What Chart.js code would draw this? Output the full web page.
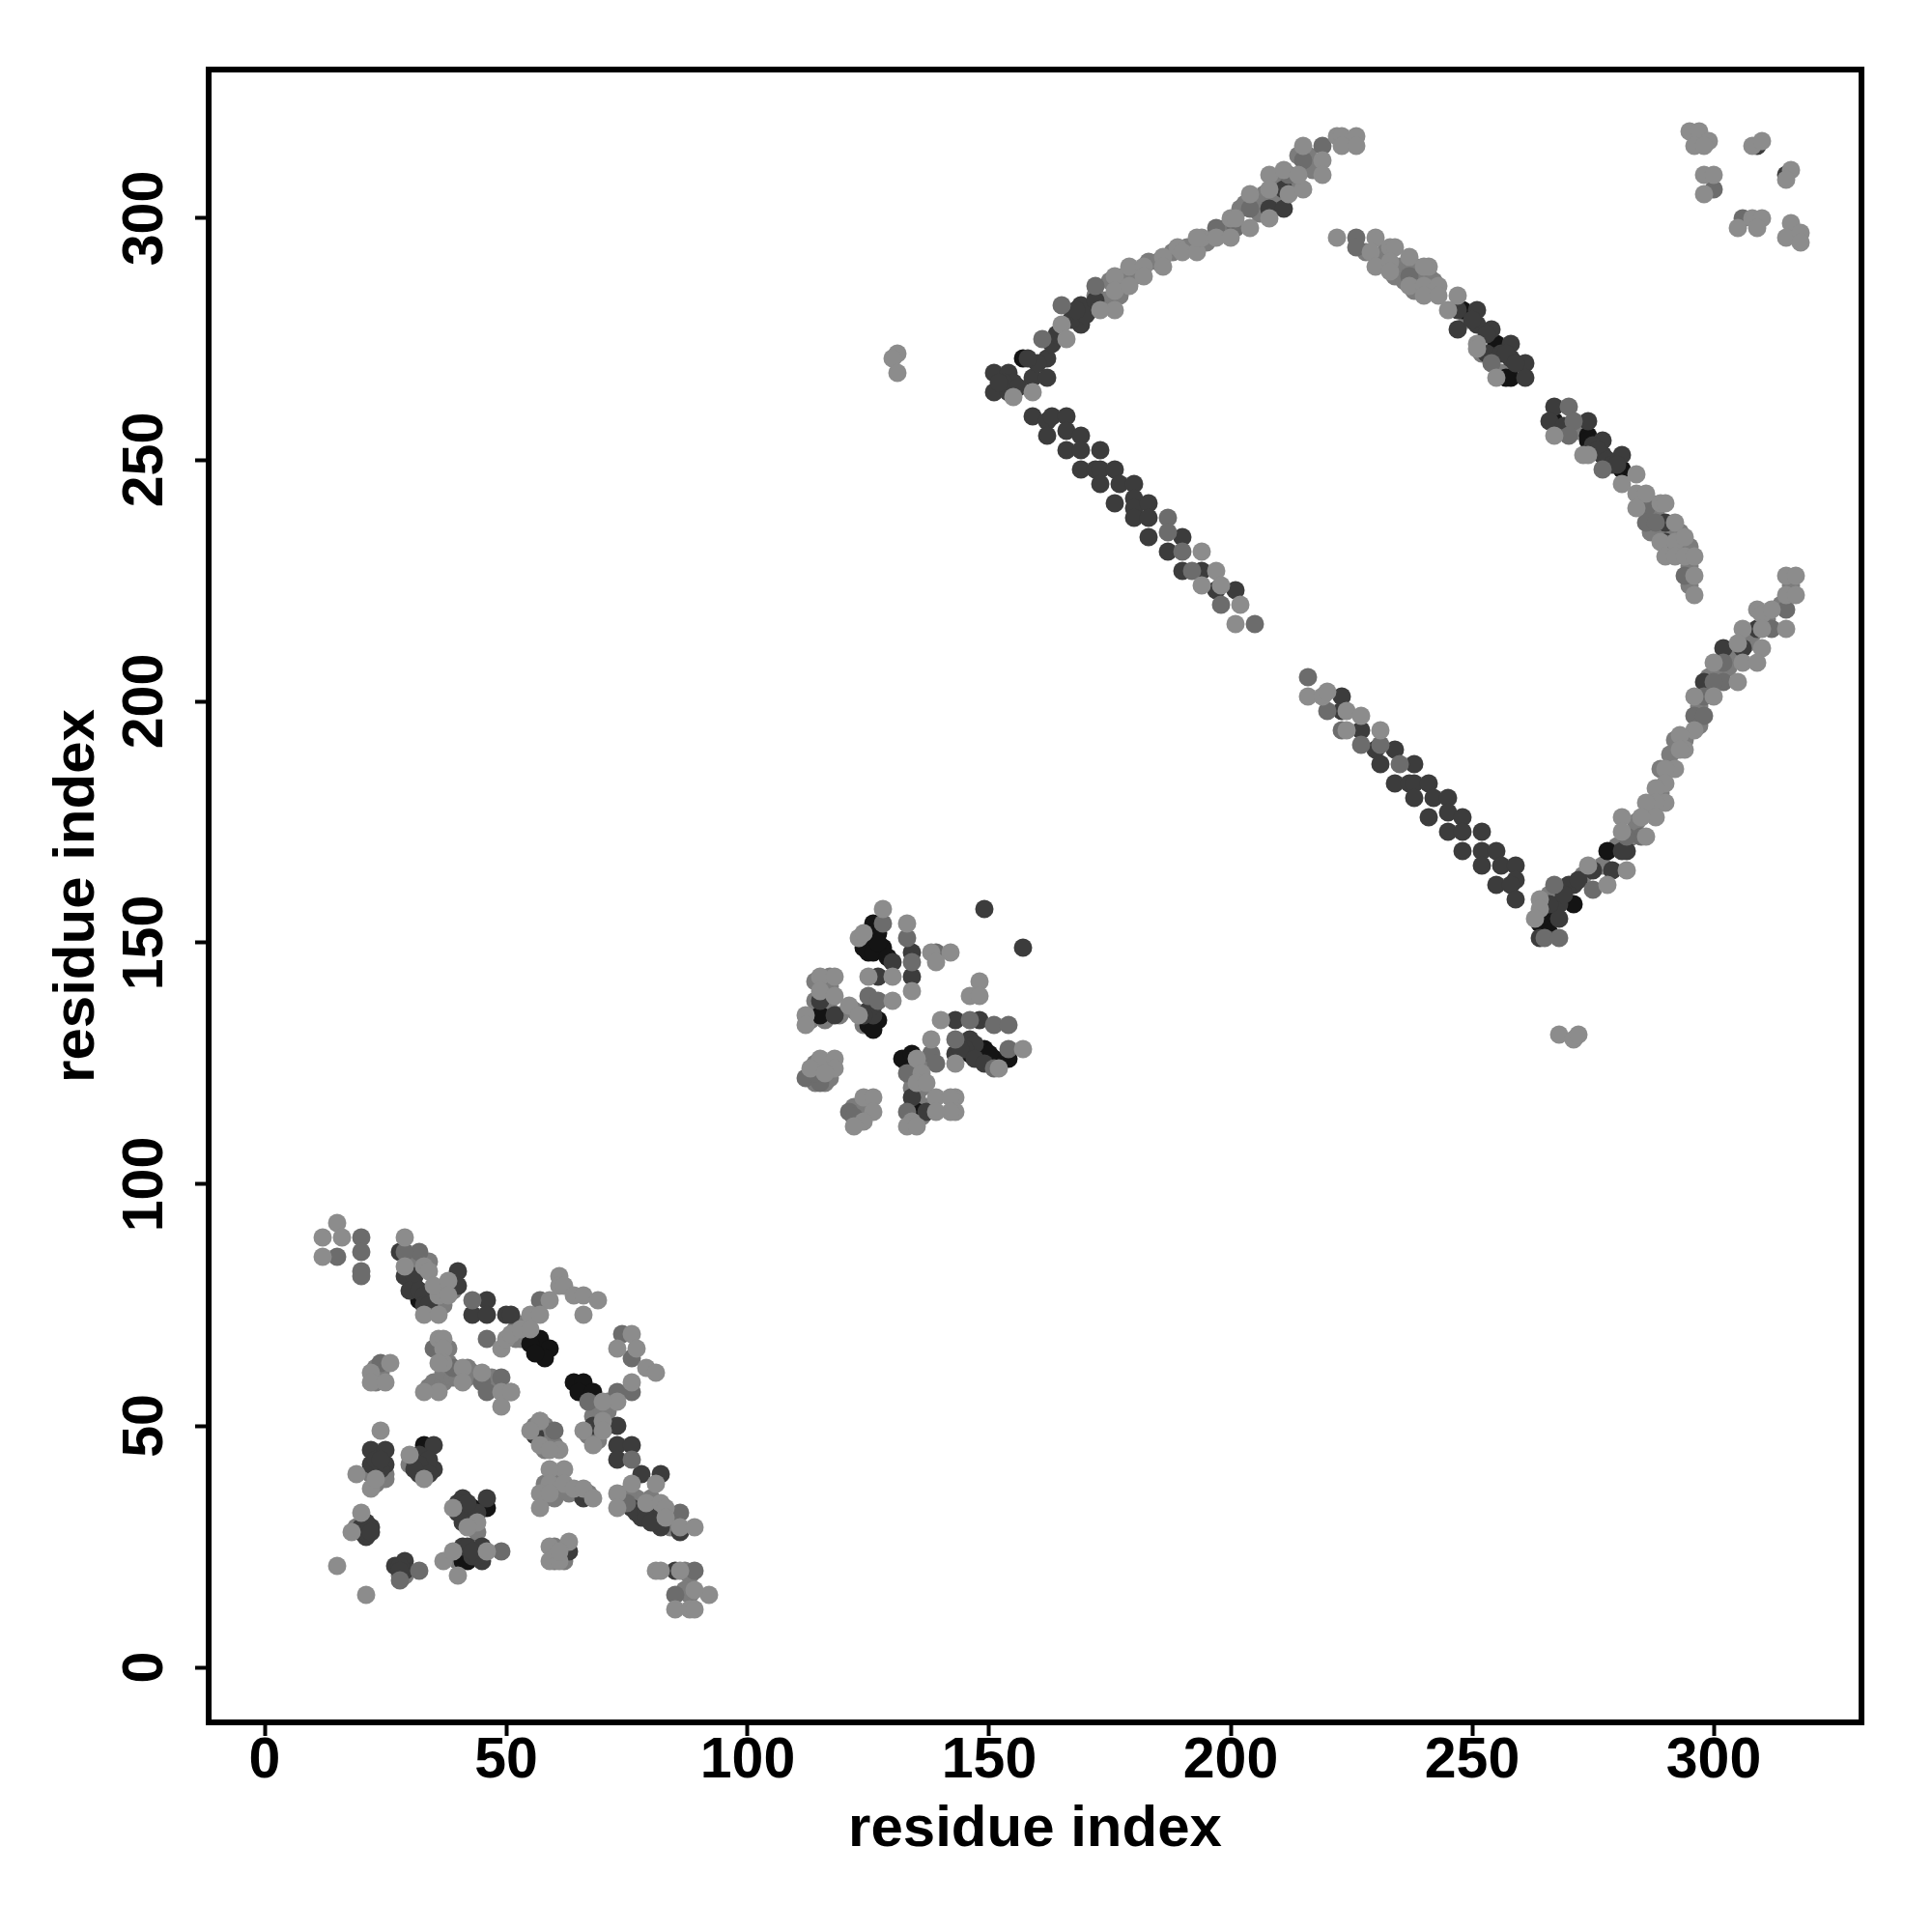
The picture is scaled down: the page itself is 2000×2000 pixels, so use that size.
<!DOCTYPE html>
<html>
<head>
<meta charset="utf-8">
<title>residue contact map</title>
<script src="https://cdn.jsdelivr.net/npm/chart.js@4"></script>
<style>
  html, body { margin: 0; background: #fff; }
  canvas { display: block; }
</style>
</head>
<body>
<canvas id="contactMap" width="2000" height="2000"></canvas>
<script>
const tickValues = [0, 50, 100, 150, 200, 250, 300];
const axisTitle = 'residue index';

// contacts [residue, residue], split by how dark the dot is
const lightContacts = [
  [15,92],[12,89],[12,85],[16,89],[29,89],[29,83],[33,83],[34,82],[36,77],[33,73],[36,73],[35,79],[38,80],[38,77],
  [49,66],[50,68],[51,69],[36,68],[37,68],[37,66],[37,63],[36,63],[41,62],[41,59],[36,57],[33,57],[45,61],[49,57],[51,57],[49,54],
  [22,61],[22,59],[26,63],[25,59],[15,21],[21,15],
  [61,81],[61,79],[62,79],[64,77],[66,77],[66,73],[69,76],[59,76],[55,73],[57,73],[53,70],[55,70],
  [76,69],[73,66],[77,66],[79,62],[81,61],[76,59],[73,55],[70,55],[51,57],[57,51],
  [24,49],[19,40],[22,37],[23,39],[30,44],[33,39],[18,28],[20,32],[39,33],[44,30],[42,29],[37,22],[39,24],[46,24],[40,19],
  [57,51],[55,49],[57,46],[61,45],[59,45],[66,49],[68,46],[70,51],[70,49],[62,41],[59,41],[59,38],[62,38],[57,36],[57,33],
  [59,36],[64,37],[66,37],[68,35],[73,36],[73,33],[76,38],[81,38],[79,34],[82,34],[83,33],[83,31],[86,29],[89,29],
  [59,25],[59,22],[63,26],[61,22],[61,24],[81,20],[82,20],[86,20],[85,12],[88,12],[89,12],[92,15],[89,16],
  [128,157],[133,154],[138,148],[142,148],[139,146],[134,140],[125,143],[130,143],[123,151],[124,152],
  [115,143],[118,143],[115,140],[118,139],[112,135],[112,133],[121,137],[123,135],[130,138],[148,142],[146,139],[148,139],[140,134],
  [138,130],[143,125],[157,128],[152,124],[135,126],[136,123],[135,121],[137,121],[139,118],[143,118],[142,118],[143,115],[142,115],[139,115],
  [134,113],[133,112],[135,112],[115,126],[118,126],[118,124],[113,124],[116,123],[124,118],[126,118],[126,115],[124,113],[122,112],
  [155,263],[159,264],[165,278],[166,275],[176,281],[173,281],[176,288],[176,285],[179,290],[179,286],[182,290],[182,288],[186,292],[186,290],
  [189,294],[190,293],[193,293],[194,296],[193,296],[197,296],[200,300],[201,300],[200,296],[204,305],[204,298],
  [208,309],[208,306],[208,300],[211,310],[212,305],[215,315],[215,306],[214,309],[219,312],[219,309],[222,317],[223,317],[223,315],[226,317],[226,315],
  [222,296],[230,296],[229,293],[230,290],[233,294],[234,294],[233,291],[233,289],[237,292],[237,286],[241,290],[240,290],[240,286],[240,284],[243,286],[243,284],[247,284],[245,281],
  [251,274],[251,273],[255,267],[267,255],[274,251],[273,251],[281,245],[284,247],
  [284,243],[286,243],[284,240],[289,241],[290,241],[292,237],[289,233],[292,233],[294,234],[290,230],[292,230],[294,230],[296,230],[296,226],[296,222],
  [194,231],[197,227],[194,224],[198,224],[202,220],[201,216],
  [131,272],[130,271],[131,268],[268,131],[271,130],[272,131],
  [295,318],[297,318],[299,316],[296,315],[298,315],[298,309],[300,309],[298,305],[308,315],[310,316],[316,310],[315,308],
  [305,298],[308,300],[310,300],[309,298],[316,299],[315,296],[318,297],[318,295],
  [315,226],[317,226],[315,222],[317,222],[309,219],[310,218],[312,219],[315,215],[310,215],[306,215],[310,211],[305,212],[306,208],[309,208],[300,208],[305,204],
  [300,201],[296,201],[296,194],[293,193],[294,190],[293,190],[292,186],[290,186],[290,183],[288,182],[290,179],[288,179],[286,179],[288,176],[285,176],[281,176],[281,173],
  [286,172],[282,165],[274,166],[278,162],[264,159],[264,157],[263,155],
  [216,201],[219,201],[220,202],[224,198],[227,197],[224,194],[231,194]
];
const midContacts = [
  [15,85],[20,89],[20,86],[20,82],[20,81],[32,86],[29,86],[43,76],[46,68],[24,63],[49,60],[35,66],[39,62],[45,59],[46,57],
  [57,76],[76,64],[74,69],[76,57],[73,57],[67,55],[32,20],[28,18],[49,24],[60,49],[76,43],[86,32],[89,20],[85,15],
  [75,34],[128,154],[133,151],[134,146],[139,148],[125,139],[127,138],[146,134],[151,133],[154,133],[143,130],[138,127],[139,125],[154,128],[151,124],[133,123],
  [133,115],[112,122],[115,121],[114,123],[121,115],[122,114],[161,275],[165,282],[172,286],[197,298],[201,298],[204,302],[212,309],[215,312],[219,315],[226,296],[226,294],[237,288],
  [187,238],[187,235],[190,231],[198,220],[205,216],[192,227],[254,270],[270,261],[271,258],[270,255],[277,248],[286,240],[286,237],[288,237],[294,226],
  [315,219],[312,215],[302,208],[302,204],[300,204],[298,201],[296,197],[298,197],[300,306],[306,300],[285,172],[282,172],[275,161],[267,162],[265,151],[268,151],
  [216,205],[220,198],[223,194],[227,191],[231,191],[235,187]
];
const darkContacts = [
  [28,86],[31,79],[40,82],[40,79],[43,73],[46,76],[46,73],[50,73],[51,73],[22,45],[25,45],[25,42],[22,42],[24,41],[35,46],[31,43],[32,40],[35,41],
  [20,29],[22,29],[21,27],[27,21],[29,22],[29,20],[41,35],[46,35],[40,32],[41,25],[42,25],[45,25],[45,22],[56,48],[68,50],[73,50],[73,46],[76,46],[73,43],[66,35],
  [76,33],[78,40],[82,40],[78,31],[81,31],[82,29],[86,28],[63,24],[85,20],[134,148],[134,143],[127,143],[130,146],[115,138],[118,135],[143,134],[148,134],[146,130],[143,127],[149,157],[157,149],[134,118],[137,115],
  [151,268],[151,264],[154,268],[154,264],[159,267],[162,271],[162,267],[169,282],[169,278],[172,283],
  [159,259],[162,258],[163,259],[166,259],[162,255],[166,256],[169,255],[166,252],[169,252],[173,252],[169,248],[172,248],[173,248],[176,248],[173,245],[177,245],[180,245],
  [176,241],[180,242],[180,240],[183,241],[180,238],[183,238],[183,234],[190,234],[187,231],[190,227],[194,227],[197,223],[201,223],
  [208,302],[211,302],[211,306],[247,281],[251,281],[247,277],[251,278],[254,277],[258,274],[258,271],[261,270],[261,267],[267,261],[266,258],[274,258],[277,254],[277,251],[281,251],
  [290,237],[290,233],[309,215],[306,211],[302,211],[298,204],[282,169],[281,169],[279,165],[275,165],[271,162],[270,162],[268,158],[268,155],[264,151],[266,158],
  [309,315],[315,309],[223,201],[223,198],[227,194],[230,190],[234,190],[231,187],[238,187],[234,183],[237,183],[238,183],[241,183],[238,180],[242,180],[245,180],
  [241,176],[245,177],[248,176],[245,173],[248,173],[252,173],[248,169],[252,169],[255,169],[252,166],[256,166],[259,166],[255,162],[259,163],[258,162],[259,159],
  [29,81],[31,81],[30,78],[32,78],[33,77],[33,75],[34,75],[23,43],[24,43],[32,44],[34,43],[32,42],[34,40],[31,41],
  [41,33],[40,34],[42,31],[44,32],[42,34],[41,30],[43,23],[44,23],[43,24],[21,30],[20,28],[21,28],[22,28],[28,21],[28,20],
  [77,32],[79,32],[79,31],[80,30],[125,136],[126,135],[126,137],[124,135],[147,129],[145,128],[144,128],[147,126],[149,125],
  [160,270],[158,271],[155,266],[153,266],[156,265],[152,266],[163,274],[164,276],[167,279],[170,280],[168,281],
  [250,279],[253,276],[253,272],[256,272],[257,272],[259,270],[269,257],[275,253],[276,252],[278,250],[279,249],[280,249],[272,163],[269,160]
];
const blackContacts = [
  [32,76],[33,46],[33,43],[43,33],[46,33],[41,22],[42,22],[57,68],[55,67],[59,66],[58,64],[56,65],[64,59],[66,59],[65,57],[68,57],[126,154],[126,151],[128,149],[125,148],
  [115,135],[125,133],[127,134],[126,132],[146,127],[149,128],[148,126],[151,126],[154,126],[132,126],[134,127],[135,115],[157,271],
  [248,281],[255,274],[258,267],[267,258],[274,255],[274,254],[281,248],[277,251],[278,169],[271,158],[264,154],
  [33,41],[125,150],[124,149],[125,152],[127,152],[126,148],[127,150],[129,147],[148,128],[150,127],[257,267],[266,155],[265,153],[266,152]
];
// dots mostly hidden in the clumps, they only show in the gaps between the others
const hiddenContacts = [
  [31,85],[34,84],[42,60],[42,62],[34,58],[35,59],[37,59],[47,60],[23,62],[23,60],[24,61],[23,59],[52,70],[53,68],[54,69],
  [25,40],[23,38],[25,39],[30,42],[43,29],[44,28],[60,24],[60,22],[62,23],[60,25],[62,22],
  [58,50],[58,47],[60,46],[58,45],[69,53],[71,53],[71,55],[60,40],[60,37],[58,38],[60,35],[58,35],[67,36],[74,35],[77,35],[80,35],[84,31],
  [116,140],[117,141],[114,142],[117,143],[117,139],[114,125],[116,125],[117,125],[125,117],[125,115],[124,115],[134,122],[136,120],[136,116],[137,116],
  [174,283],[175,287],[177,284],[178,288],[180,288],[183,291],[185,291],[188,293],[191,294],[195,295],[199,298],[205,303],[207,305],[210,304],[214,313],[216,313],[217,310],
  [228,293],[231,291],[232,293],[235,290],[234,288],[236,290],[238,290],[239,288],[241,288],[242,287],[238,285],[236,287],
  [285,241],[287,241],[291,235],[293,235],[291,232],[293,232],[295,232],[295,228],[295,224],
  [316,224],[314,220],[311,217],[304,209],[299,205],[297,199],[297,195],[294,192],[292,192],[291,189],[289,186],[289,181],[287,178],[284,175],
  [30,84],[39,78],[37,75],[38,66],[37,61],[39,60],[38,63],[40,60],[43,61],[46,59],[52,68],[53,71],[22,40],[23,41],[24,40],
  [19,29],[28,19],[29,19],[40,22],[40,24],[56,50],[57,48],[59,47],[67,48],[69,47],[68,52],[69,50],[71,50],[68,55],[70,53],
  [61,39],[63,36],[65,36],[58,37],[75,36],[78,33],[80,33],[82,30],[85,30],[84,29],[62,24],[87,20],[88,19],[87,16],[88,15],
  [113,134],[114,135],[116,137],[117,136],[116,134],[119,135],[114,138],[122,136],[124,133],[113,122],[114,121],[116,121],[117,122],[115,123],
  [123,116],[122,116],[123,114],[123,113],[133,125],[135,124],[136,125],[134,120],[135,118],[134,116],[134,114],[136,114],[152,125],
  [202,302],[203,303],[206,301],[209,304],[210,308],[213,307],[171,281],[172,284],[249,279],[252,272],[256,268],[268,256],[272,256],
  [288,239],[288,235],[287,235],[308,214],[307,212],[303,207],[301,206],[283,172],[280,170],[277,166],[273,164],[266,160],[265,157]
];

const toPoints = list => list.map(([x, y]) => ({ x, y }));
const contactSet = (data, color) => ({
  data: toPoints(data),
  pointRadius: 9.5,
  pointBorderWidth: 0,
  backgroundColor: color
});

const plotFrame = {
  id: 'plotFrame',
  afterDraw(chart) {
    const { ctx, chartArea: a } = chart;
    ctx.save();
    ctx.strokeStyle = '#000';
    ctx.lineWidth = 6;
    ctx.strokeRect(a.left, a.top, a.right - a.left, a.bottom - a.top);
    ctx.restore();
  }
};

const textFont = { family: '"Liberation Sans"', size: 59, weight: 'bold', lineHeight: 1.2 };

function axisOptions(min, max, isY) {
  return {
    min, max,
    afterBuildTicks: axis => { axis.ticks = tickValues.map(value => ({ value })); },
    afterFit: axis => { if (isY) axis.width = 216; else axis.height = 217; },
    border: { display: false },
    grid: { drawOnChartArea: false, drawTicks: true, tickLength: 14, tickWidth: 4, tickColor: '#000' },
    ticks: isY
      ? { color: '#000', font: textFont, autoSkip: false, minRotation: 90, maxRotation: 90, crossAlign: 'center', padding: 1 }
      : { color: '#000', font: textFont, autoSkip: false, maxRotation: 0, padding: -9 },
    title: {
      display: true,
      text: axisTitle,
      color: '#000',
      font: { family: '"Liberation Sans"', size: 60, weight: 'bold', lineHeight: 1.2 },
      padding: isY ? { top: 44, bottom: 0 } : { top: 0, bottom: 70 }
    }
  };
}

// first dataset ends up on top
new Chart(document.getElementById('contactMap'), {
  type: 'scatter',
  data: {
    datasets: [
      contactSet(lightContacts, '#8c8c8c'),
      contactSet(midContacts, '#6c6c6c'),
      contactSet(darkContacts, '#3c3c3c'),
      contactSet(blackContacts, '#141414'),
      contactSet(hiddenContacts, '#7c7c7c')
    ]
  },
  options: {
    responsive: false,
    animation: false,
    devicePixelRatio: 1,
    layout: { padding: { top: 72, right: 73, left: 0, bottom: 0 } },
    plugins: { legend: { display: false }, tooltip: { enabled: false } },
    scales: {
      x: axisOptions(-11.6, 330.6, false),
      y: axisOptions(-11.4, 330.8, true)
    }
  },
  plugins: [plotFrame]
});
</script>
</body>
</html>
